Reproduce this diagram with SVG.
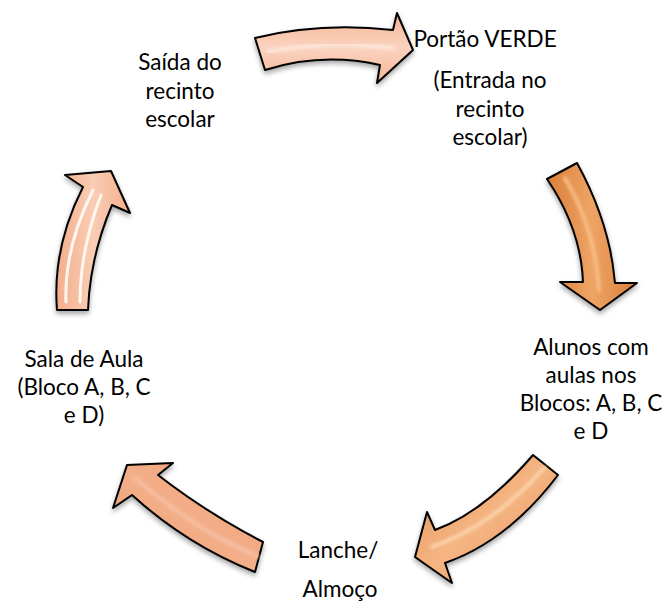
<svg xmlns="http://www.w3.org/2000/svg" width="670" height="603" viewBox="0 0 670 603">
<defs>
<style>
.t{font-family:Lato,"Open Sans","Liberation Sans",sans-serif;font-size:22.5px;fill:#000;text-anchor:middle}
.arr{stroke:#000;stroke-width:2;stroke-linejoin:round}
.hl{fill:none;stroke-linecap:round}
</style>
<filter id="sh" x="-20%" y="-20%" width="140%" height="150%">
<feDropShadow dx="0" dy="3" stdDeviation="2.5" flood-color="#000" flood-opacity="0.35"/>
</filter>
<filter id="bl"><feGaussianBlur stdDeviation="1.5"/></filter>
<linearGradient id="g1" x1="0" y1="0" x2="0" y2="1">
<stop offset="0" stop-color="#F5B596"/><stop offset="0.5" stop-color="#FBD3BF"/><stop offset="1" stop-color="#F5B596"/>
</linearGradient>
<linearGradient id="g2" x1="0" y1="0" x2="1" y2="0">
<stop offset="0" stop-color="#D97F3A"/><stop offset="0.5" stop-color="#EFA465"/><stop offset="1" stop-color="#D97F3A"/>
</linearGradient>
<linearGradient id="g3" x1="0" y1="0" x2="1" y2="1">
<stop offset="0" stop-color="#E48F55"/><stop offset="0.5" stop-color="#F5B583"/><stop offset="1" stop-color="#E48F55"/>
</linearGradient>
<linearGradient id="g4" x1="0" y1="1" x2="1" y2="0">
<stop offset="0" stop-color="#EC996E"/><stop offset="0.5" stop-color="#F3AF8A"/><stop offset="1" stop-color="#EC996E"/>
</linearGradient>
<linearGradient id="g5" x1="0" y1="0" x2="1" y2="0">
<stop offset="0" stop-color="#F3AE8C"/><stop offset="0.5" stop-color="#F9CDB5"/><stop offset="1" stop-color="#F3AE8C"/>
</linearGradient>
</defs>
<rect width="670" height="603" fill="#fff"/>
<g id="connectors">
<g id="arrow-top" filter="url(#sh)">
<path class="arr" fill="url(#g1)" d="M255,38 Q320,22 393,30 L397,13 L413,50 L377,83 L380,65 Q322,52 265,70 Z"/>
<path class="hl" stroke="#FDE6DA" stroke-width="4" filter="url(#bl)" d="M268,52 Q325,40 392,48"/>
</g>
<g id="arrow-right" filter="url(#sh)">
<path class="arr" fill="url(#g2)" d="M547,179 Q581,229 583,282 L560,282 L600,310 L637,283 L615,283 Q610,223 577,163 Z"/>
<path class="hl" stroke="#F7BC83" stroke-width="4" filter="url(#bl)" d="M565,178 Q595,228 599,290"/>
</g>
<g id="arrow-bottom-right" filter="url(#sh)">
<path class="arr" fill="url(#g3)" d="M533,455 Q484,512 435,530 L427,512 L415,557 L452,583 L445,563 Q508,541 558,475 Z"/>
<path class="hl" stroke="#FAD1A8" stroke-width="4" filter="url(#bl)" d="M544,468 Q494,525 432,547"/>
</g>
<g id="arrow-bottom-left" filter="url(#sh)">
<path class="arr" fill="url(#g4)" d="M127,465 L173,463 L158,475 Q207,513 263,542 L255,572 Q187,545 132,495 L113,508 Z"/>
<path class="hl" stroke="#F6BEA0" stroke-width="4" filter="url(#bl)" d="M135,478 Q195,530 257,556"/>
</g>
<g id="arrow-left" filter="url(#sh)">
<path class="arr" fill="url(#g5)" d="M57,310 Q52,248 83,187 L65,175 L111,171 L130,213 L112,205 Q90,257 88,310 Z"/>
<path class="hl" stroke="#FFF6EE" stroke-width="3" d="M66,302 Q64,248 93,190"/>
<path class="hl" stroke="#FFF6EE" stroke-width="3" d="M80,302 Q80,250 101,195"/>
</g>
</g>
<g id="node-saida">
<text class="t" x="180" y="70">Saída do</text>
<text class="t" x="180" y="99">recinto</text>
<text class="t" x="180" y="127">escolar</text>
</g>
<g id="node-portao">
<text class="t" x="485" y="47">Portão VERDE</text>
<text class="t" x="490" y="88">(Entrada no</text>
<text class="t" x="490" y="117">recinto</text>
<text class="t" x="490" y="145">escolar)</text>
</g>
<g id="node-alunos">
<text class="t" x="591" y="355">Alunos com</text>
<text class="t" x="591" y="383">aulas nos</text>
<text class="t" x="591" y="411">Blocos: A, B, C</text>
<text class="t" x="591" y="439">e D</text>
</g>
<g id="node-lanche">
<text class="t" x="338" y="558">Lanche/</text>
<text class="t" x="340" y="597">Almoço</text>
</g>
<g id="node-sala">
<text class="t" x="84" y="367">Sala de Aula</text>
<text class="t" x="84" y="395">(Bloco A, B, C</text>
<text class="t" x="84" y="423">e D)</text>
</g>
</svg>
